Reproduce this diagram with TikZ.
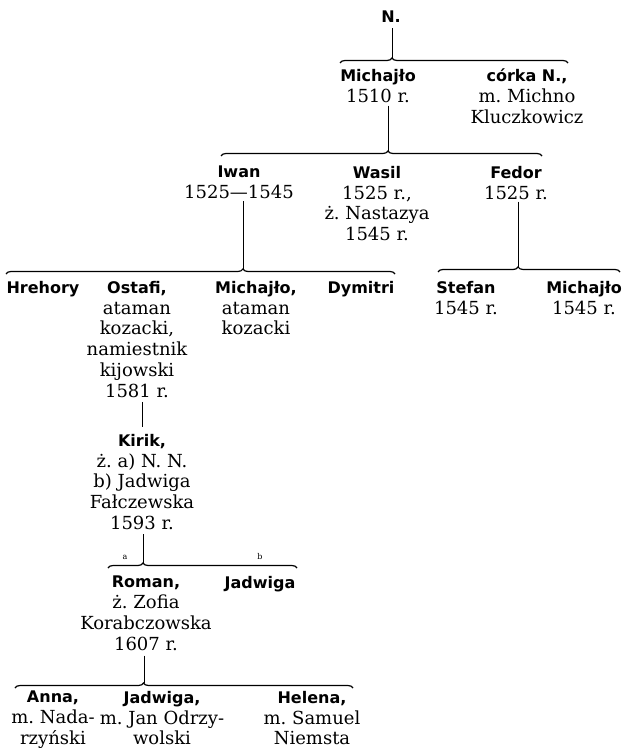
\documentclass[tikz,border=0pt]{standalone}
\usepackage{fontspec}
\setmainfont{DejaVu Serif}
\newfontfamily\namefont{DejaVu Sans}
\usetikzlibrary{decorations.pathreplacing}
\frenchspacing
\newcommand{\pname}[1]{{\namefont\bfseries\fontsize{16}{20.8}\selectfont #1}}

\begin{document}
\begin{tikzpicture}[x=1pt,y=-1pt,
  person/.style={anchor=north,align=center,inner sep=0pt,font=\fontsize{18}{20.8}\selectfont},
  tag/.style={inner sep=0pt,font=\fontsize{8}{8}\selectfont},
  fork/.style={decorate,decoration={brace,amplitude=5pt,aspect=#1},line width=1.2pt},
  stem/.style={line width=0.9pt}]
\useasboundingbox (0,0) rectangle (621,751);
\node[person] (n) at (391,11) {\pname{N.}};
\node[person] (michajlo1) at (378,69) {\pname{Michajło}\\1510 r.};
\node[person] (corka) at (527,69) {\pname{córka N.,}\\m. Michno\\Kluczkowicz};
\node[person] (iwan) at (239,166) {\pname{Iwan}\\1525—1545};
\node[person] (wasil) at (377,166) {\pname{Wasil}\\1525 r.,\\ż. Nastazya\\1545 r.};
\node[person] (fedor) at (516,166) {\pname{Fedor}\\1525 r.};
\node[person] (hrehory) at (43,281) {\pname{Hrehory}};
\node[person] (ostafi) at (137,281) {\pname{Ostafi,}\\ataman\\kozacki,\\namiestnik\\kijowski\\1581 r.};
\node[person] (michajlo2) at (256,281) {\pname{Michajło,}\\ataman\\kozacki};
\node[person] (dymitri) at (361,281) {\pname{Dymitri}};
\node[person] (stefan) at (466,281) {\pname{Stefan}\\1545 r.};
\node[person] (michajlo3) at (584,281) {\pname{Michajło}\\1545 r.};
\node[person] (kirik) at (142,434) {\pname{Kirik,}\\ż. a) N. N.\\b) Jadwiga\\Fałczewska\\1593 r.};
\node[tag] (la) at (125,557) {a};
\node[tag] (lb) at (260,557) {b};
\node[person] (roman) at (146,576) {\pname{Roman,}\\ż. Zofia\\Korabczowska\\1607 r.};
\node[person] (jadwiga1) at (260,576) {\pname{Jadwiga}};
\node[person] (anna) at (53,691) {\pname{Anna,}\\m. Nada-\\rzyński};
\node[person] (jadwiga2) at (162,691) {\pname{Jadwiga,}\\m. Jan Odrzy-\\wolski};
\node[person] (helena) at (312,691) {\pname{Helena,}\\m. Samuel\\Niemsta};
\coordinate (b1l) at (340,63);
\coordinate (b1r) at (568,63);
\coordinate (t1) at (392,58);
\coordinate (b2l) at (221,156);
\coordinate (b2r) at (542,156);
\coordinate (t2) at (388,151);
\coordinate (b3l) at (6,274);
\coordinate (b3r) at (395,274);
\coordinate (t3) at (243,269);
\coordinate (b4l) at (438,272);
\coordinate (b4r) at (620,272);
\coordinate (t4) at (518,267);
\coordinate (b5l) at (108,568);
\coordinate (b5r) at (297,568);
\coordinate (t5) at (143,563);
\coordinate (b6l) at (15,688);
\coordinate (b6r) at (353,688);
\coordinate (t6) at (144,683);
\draw[fork=0.228] (b1l) -- (b1r);
\draw[fork=0.52] (b2l) -- (b2r);
\draw[fork=0.609] (b3l) -- (b3r);
\draw[fork=0.44] (b4l) -- (b4r);
\draw[fork=0.185] (b5l) -- (b5r);
\draw[fork=0.38] (b6l) -- (b6r);
\draw[stem,shorten <=5pt] (n.south -| t1) -- (t1);
\draw[stem,shorten <=3pt] (michajlo1.south -| t2) -- (t2);
\draw[stem,shorten <=2pt] (iwan.south -| t3) -- (t3);
\draw[stem,shorten <=2pt] (fedor.south -| t4) -- (t4);
\draw[stem,shorten <=4pt,shorten >=7pt] (ostafi.south -| kirik.north) -- (kirik.north);
\draw[stem,shorten <=4pt] (kirik.south -| t5) -- (t5);
\draw[stem,shorten <=5pt] (roman.south -| t6) -- (t6);
\end{tikzpicture}
\end{document}
